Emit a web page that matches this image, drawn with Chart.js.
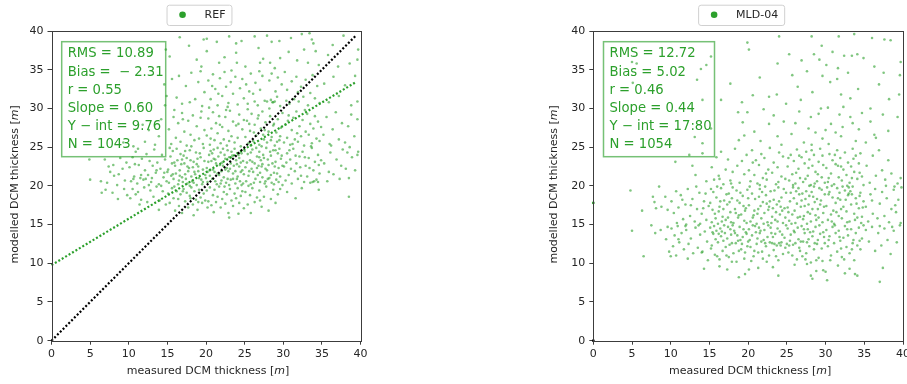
<!DOCTYPE html>
<html><head><meta charset="utf-8">
<script src="https://cdn.jsdelivr.net/npm/chart.js@4.4.0/dist/chart.umd.min.js"></script>
<style>
html,body{margin:0;padding:0;background:#fff;width:907px;height:384px;overflow:hidden;}
#c1{position:absolute;left:0;top:0;}
#c2{position:absolute;left:454px;top:0;}
</style></head><body>
<canvas id="c1" width="454" height="384"></canvas>
<canvas id="c2" width="453" height="384"></canvas>
<script>
// ---------- data ----------
const axisMin = 0, axisMax = 40, axisStep = 5;
const xTitleParts = ["measured DCM thickness [", "m", "]"];
const yTitleParts = ["modelled DCM thickness [", "m", "]"];
const refLabel = "REF";
const mldLabel = "MLD-04";
const refStatsText = ["RMS = 10.89", "Bias =  \u2212 2.31", "r = 0.55", "Slope = 0.60", "Y \u2212 int = 9.76", "N = 1043"];
const mldStatsText = ["RMS = 12.72", "Bias = 5.02", "r = 0.46", "Slope = 0.44", "Y \u2212 int = 17:80", "N = 1054"];
const oneToOneX = [0, 39.4];
const oneToOneY = [0, 39.4];
const refFitX = [0, 39.4];
const refFitY = [9.76, 33.4];
const mldLineX = [0];
const mldOneToOneY = [0];
const mldFitY = [17.8];

const refPoints = [
[14.8,37.6],[15.3,36.7],[16.6,39.2],[17.8,38.1],[18.8,36.3],[19.7,38.9],[19.4,35.4],[20.1,39.0],[20.1,37.4],[21.4,38.6],[21.7,35.9],[23.0,39.3],[23.9,38.4],[23.9,37.2],[24.0,35.9],[24.6,38.7],[22.4,36.6],[25.1,35.4],[26.3,39.3],[27.0,35.9],[27.9,39.4],[28.3,35.9],[28.5,38.6],[28.9,35.2],[29.5,38.7],[29.6,36.5],[26.8,37.8],[27.4,36.4],[31.0,39.1],[30.7,37.3],[32.4,39.6],[32.7,37.6],[33.4,39.7],[33.7,38.9],[33.9,38.4],[33.2,35.9],[31.8,36.2],[34.2,37.4],[34.6,35.6],[35.8,36.9],[36.4,38.2],[37.8,39.4],[38.6,35.8],[39.7,37.6],[39.6,36.3],[37.1,35.4],
[14.6,33.1],[14.7,30.4],[14.9,31.6],
[15.6,33.8],[16.2,31.4],[16.9,30.6],[17.4,32.9],[18.1,34.6],[18.6,31.2],[19.0,33.4],[19.5,30.3],[19.8,32.1],[17.9,30.8],[16.5,34.2],[19.3,34.8],
[20.3,33.6],[20.6,31.2],[20.9,34.4],[21.2,32.5],[21.5,30.4],[21.8,33.9],[22.1,31.6],[22.4,34.7],[22.6,32.8],[22.9,30.7],[23.2,33.4],[23.5,31.9],[23.8,34.1],[24.1,30.5],[24.4,32.6],[24.7,33.8],[20.4,30.1],[21.6,31.9],[22.8,30.2],[24.9,31.3],[23.3,34.9],[20.8,32.9],
[25.2,33.1],[25.4,30.6],[25.8,34.5],[26.1,31.9],[26.4,33.3],[26.7,30.4],[27.0,32.4],[27.3,34.2],[27.6,31.0],[27.9,30.9],[28.2,33.6],[28.4,31.1],[28.7,30.8],[29.0,32.2],[29.3,34.0],[29.6,30.3],[29.8,33.1],[25.6,32.2],[26.9,34.8],[28.5,34.5],[29.2,31.5],[26.3,30.9],
[30.2,34.7],[30.5,32.4],[30.8,30.6],[31.1,33.5],[31.4,31.2],[31.7,34.1],[32.0,30.9],[32.3,32.8],[32.6,31.5],[32.9,33.7],[33.2,30.4],[33.5,32.0],[33.8,34.3],[34.1,31.3],[34.4,32.9],[34.7,30.7],[31.9,32.1],[30.4,31.0],
[35.3,33.2],[35.9,30.8],[36.5,34.1],[37.2,31.6],[38.0,33.0],[38.8,30.4],[39.6,30.9],[39.3,34.2],
[9.3,25.6],[11.8,27.9],[12.6,27.2],[13.4,25.3],[14.2,28.6],[10.6,25.1],[13.9,26.4],[12.1,25.7],
[15.2,27.3],[15.5,25.4],[15.8,28.9],[16.1,26.2],[16.4,28.1],[16.7,25.7],[16.9,29.4],[17.2,27.0],[17.5,25.2],[17.7,28.4],[18.0,26.6],[18.3,29.1],[18.5,25.9],[18.8,27.7],[19.1,26.1],[19.3,28.8],[19.6,25.4],[19.8,27.2],[15.9,29.8],[17.0,28.6],[18.1,25.1],[19.4,29.6],
[20.1,26.5],[20.3,28.7],[20.5,25.3],[20.7,27.4],[20.9,29.5],[21.1,25.9],[21.3,28.1],[21.5,26.8],[21.7,29.0],[21.9,25.5],[22.1,27.6],[22.3,26.0],[22.5,28.9],[22.7,25.2],[22.9,27.1],[23.1,29.7],[23.3,26.4],[23.5,28.3],[23.7,25.6],[23.9,27.8],[24.1,26.2],[24.3,29.2],[24.5,25.1],[24.7,27.3],[24.9,28.5],[20.6,26.1],[21.8,27.9],[23.0,25.8],[24.2,28.0],[22.6,29.8],
[25.1,26.3],[25.3,28.4],[25.5,25.5],[25.7,27.1],[25.9,29.3],[26.1,25.8],[26.3,27.9],[26.5,26.5],[26.7,28.7],[26.9,25.3],[27.1,27.4],[27.3,29.6],[27.5,26.0],[27.7,28.2],[27.9,25.6],[28.1,27.0],[28.3,29.0],[28.5,26.3],[28.7,27.8],[28.9,25.2],[29.1,26.9],[29.3,28.6],[29.5,25.9],[29.7,27.5],[29.9,29.4],[25.4,29.9],[26.2,26.9],[27.2,25.1],[28.2,30.0],[28.6,30.8],[28.9,30.9],[29.2,25.7],[26.8,29.1],[25.8,25.2],[27.6,27.2],[28.4,25.9],[29.6,26.4],[25.6,28.0],[27.4,26.6],[28.8,28.0],
[30.1,25.6],[30.3,27.9],[30.5,26.2],[30.7,29.1],[30.9,25.3],[31.1,27.2],[31.3,28.8],[31.5,26.0],[31.7,29.6],[31.9,25.7],[32.1,27.7],[32.3,26.4],[32.5,28.5],[32.7,25.2],[32.9,27.0],[33.1,29.3],[33.3,26.6],[33.5,28.0],[33.7,25.5],[33.9,27.4],[34.1,29.0],[34.3,26.1],[34.5,28.3],[34.7,25.8],[34.9,27.6],[30.6,28.4],[31.8,26.8],[32.8,29.8],[33.6,25.1],[31.2,25.4],
[35.2,26.6],[35.6,28.9],[36.0,25.4],[36.4,27.3],[36.8,29.5],[37.2,26.0],[37.6,28.1],[38.0,25.6],[38.4,27.7],[38.8,29.2],[39.2,26.4],[39.6,28.6],[39.7,24.4],[36.2,25.2],[38.6,25.0],
[4.9,23.4],[5.0,20.8],[6.4,20.6],[6.5,19.1],[7.4,22.5],[7.6,21.8],[8.0,22.7],[8.1,21.3],[8.5,20.1],[8.7,21.5],[8.9,23.6],[9.2,22.2],[9.5,20.7],[9.7,23.0],[7.2,20.4],[6.9,23.4],
[10.1,22.4],[10.3,20.6],[10.5,23.7],[10.7,21.2],[10.9,24.4],[11.1,20.3],[11.3,22.7],[11.5,21.0],[11.7,23.5],[11.9,20.8],[12.1,22.0],[12.3,24.1],[12.5,21.4],[12.7,23.2],[12.9,20.5],[13.1,22.6],[13.3,24.7],[13.5,21.7],[13.7,23.0],[13.9,20.2],[14.1,22.2],[14.3,24.0],[14.5,21.1],[14.7,23.4],[14.9,20.6],[10.6,20.9],[11.6,21.4],[12.6,20.1],[13.6,22.0],[14.6,21.7],[11.2,24.8],[13.0,21.0],[14.2,20.0],[10.8,22.8],[12.2,20.9],
[15.1,22.1],[15.2,20.4],[15.4,23.8],[15.5,21.3],[15.7,24.5],[15.8,20.9],[16.0,22.6],[16.1,21.6],[16.3,23.3],[16.4,20.2],[16.6,22.0],[16.7,24.1],[16.9,21.1],[17.0,20.5],[17.2,22.9],[17.3,21.5],[17.5,23.6],[17.6,20.3],[17.8,22.3],[17.9,24.6],[18.1,21.2],[18.2,20.6],[18.4,23.1],[18.5,21.8],[18.7,24.3],[18.8,20.1],[19.0,22.5],[19.1,21.0],[19.3,23.7],[19.4,20.8],[19.6,22.1],[19.7,24.9],[19.9,21.4],[15.3,24.9],[15.9,23.0],[16.5,20.7],[17.1,23.9],[17.7,21.9],[18.3,22.4],[18.9,23.5],[19.5,20.2],[16.2,24.8],[17.4,20.9],[18.6,21.5],[19.8,23.2],[15.6,22.9],[16.8,22.8],[18.0,23.3],[19.2,24.2],[17.9,20.0],[15.0,21.8],[16.6,21.3],[18.4,20.4],[19.0,21.9],[17.3,24.5],[19.6,20.5],[16.9,23.4],[15.7,21.5],[18.8,22.8],[17.6,22.5],
[20.1,22.3],[20.2,20.5],[20.4,24.0],[20.5,21.3],[20.7,23.2],[20.8,20.9],[21.0,24.7],[21.1,21.8],[21.3,22.9],[21.4,20.2],[21.6,23.8],[21.7,21.4],[21.9,24.3],[22.0,20.7],[22.2,22.6],[22.3,21.1],[22.5,23.5],[22.6,20.4],[22.8,24.6],[22.9,21.9],[23.1,22.2],[23.2,20.8],[23.4,23.9],[23.5,21.6],[23.7,24.8],[23.8,20.3],[24.0,22.8],[24.1,21.2],[24.3,23.6],[24.4,20.6],[24.6,24.2],[24.7,22.0],[24.9,21.5],[20.3,23.1],[20.9,22.1],[21.5,24.9],[22.1,23.0],[22.7,22.3],[23.3,24.4],[23.9,23.3],[24.5,21.8],[20.6,24.5],[21.2,20.6],[21.8,22.7],[22.4,24.0],[23.0,20.1],[23.6,22.6],[24.2,24.0],[24.8,23.2],[20.0,21.0],[21.0,23.5],[22.0,21.9],[23.0,23.7],[24.0,20.9],[20.5,22.0],[21.5,21.6],[22.5,22.1],[23.5,20.9],[24.5,23.0],[20.8,24.2],[22.8,20.9],[24.8,20.3],[21.9,20.3],[23.8,21.9],[20.2,21.8],[22.2,24.8],[24.3,22.5],[21.2,23.4],[23.2,22.9],[24.6,20.1],
[25.1,22.4],[25.2,20.6],[25.4,24.1],[25.5,21.3],[25.7,23.3],[25.8,20.2],[26.0,24.7],[26.1,21.8],[26.3,22.9],[26.4,20.9],[26.6,23.8],[26.7,21.4],[26.9,24.4],[27.0,20.5],[27.2,22.5],[27.3,21.1],[27.5,23.6],[27.6,20.3],[27.8,24.9],[27.9,22.0],[28.1,22.7],[28.2,21.0],[28.4,23.9],[28.5,20.4],[28.7,24.6],[28.8,21.7],[29.0,23.1],[29.1,20.8],[29.3,24.2],[29.4,22.3],[29.6,21.2],[29.7,23.5],[29.9,20.1],[25.3,23.0],[25.9,22.2],[26.5,24.9],[27.1,23.3],[27.7,22.2],[28.3,24.4],[28.9,22.5],[29.5,24.8],[25.6,21.9],[26.2,20.4],[26.8,22.6],[27.4,24.0],[28.0,20.9],[28.6,22.9],[29.2,21.6],[29.8,23.9],[25.0,24.5],[26.0,23.1],[27.0,21.7],[28.0,23.4],[29.0,24.6],[25.5,20.0],[26.6,22.3],[27.7,20.6],[28.8,20.2],[29.9,22.6],[26.9,23.7],[28.4,21.4],[25.8,24.3],[27.3,22.8],[29.4,20.5],
[30.1,22.5],[30.3,20.7],[30.5,24.2],[30.7,21.4],[30.9,23.4],[31.1,20.3],[31.3,24.8],[31.5,21.9],[31.7,22.9],[31.9,20.9],[32.1,23.8],[32.3,21.3],[32.5,24.4],[32.7,20.5],[32.9,22.6],[33.1,21.2],[33.3,23.6],[33.5,20.4],[33.7,24.9],[33.9,22.0],[34.1,23.1],[34.3,20.8],[34.5,24.0],[34.7,21.6],[34.9,23.3],[30.4,23.0],[31.0,22.2],[31.6,23.9],[32.2,22.4],[32.8,23.7],[33.4,22.3],[34.0,20.6],[34.6,22.7],[30.8,24.6],[33.8,20.5],[34.5,20.5],
[35.3,22.9],[35.7,20.6],[36.1,24.3],[36.5,21.5],[36.9,23.4],[37.3,20.9],[37.7,24.7],[38.1,22.2],[38.5,21.0],[38.9,23.7],[39.3,22.0],[39.6,24.0],[35.9,21.8],[37.5,22.6],[38.3,24.3],
[7.9,19.1],[8.6,18.3],[9.4,19.6],[9.8,18.8],[7.0,19.5],
[10.2,18.4],[10.5,19.6],[10.9,18.9],[11.2,19.2],[11.6,18.2],[12.0,19.8],[12.4,17.9],[12.8,19.4],[13.2,18.6],[13.6,19.9],[14.0,18.1],[14.4,19.3],[14.8,17.6],[11.4,17.6],[13.9,16.9],
[15.1,19.0],[15.3,17.8],[15.6,19.7],[15.8,18.4],[16.0,16.8],[16.2,19.3],[16.5,17.4],[16.7,18.9],[16.9,16.5],[17.1,19.6],[17.3,18.0],[17.5,19.1],[17.7,17.2],[17.9,18.7],[18.1,19.8],[18.3,17.6],[18.5,19.3],[18.7,18.2],[18.9,16.9],[19.1,19.5],[19.3,18.5],[19.5,17.8],[19.7,19.0],[19.9,18.1],[15.9,19.9],[17.0,19.3],[18.0,18.4],[19.0,17.9],[16.4,18.3],[18.4,16.2],
[20.1,19.4],[20.3,18.0],[20.5,19.8],[20.7,17.5],[20.9,18.8],[21.1,19.5],[21.3,17.9],[21.5,18.6],[21.7,19.9],[21.9,17.2],[22.1,18.3],[22.3,19.2],[22.5,17.7],[22.7,18.9],[22.9,16.5],[23.1,19.6],[23.3,18.1],[23.5,17.4],[23.7,19.0],[23.9,18.4],[24.1,19.7],[24.3,17.8],[24.5,18.7],[24.7,19.3],[24.9,17.1],[20.2,17.2],[21.0,16.6],[22.4,19.9],[23.0,15.9],[24.2,16.4],
[25.1,19.2],[25.4,17.6],[25.7,18.8],[26.0,19.7],[26.3,17.9],[26.6,18.5],[26.9,19.4],[27.2,17.3],[27.5,18.6],[27.8,19.9],[28.1,16.8],[28.4,18.3],[28.7,19.5],[29.0,17.8],[29.3,18.9],[29.6,19.6],[25.8,16.5],[27.0,18.1],
[30.5,19.2],[31.6,18.4],[32.4,19.7],[34.6,19.5],[38.5,18.6]
];

const mldPoints = [
[5.0,36.0],[5.6,35.8],[14.6,35.6],[13.9,35.1],[15.2,36.7],[19.9,38.5],[20.1,37.6],[23.8,35.8],[24.0,39.3],[25.3,37.0],[28.2,39.3],[28.5,37.0],[29.5,38.1],[29.2,36.3],[30.9,37.3],[31.7,39.3],[32.4,36.8],[33.4,36.8],[33.7,39.6],[34.1,37.0],[34.9,36.5],[36.0,39.1],[36.3,35.4],[37.6,38.9],[38.4,38.8],[39.7,36.0],[30.1,35.6],[26.9,36.2],[31.6,35.2],
[5.1,33.3],[13.4,33.7],[14.1,31.1],[16.5,31.1],[17.7,33.2],[20.6,31.7],[22.7,31.5],[23.7,31.8],[21.5,34.0],[26.4,32.8],[26.8,31.1],[27.6,34.8],[29.4,30.0],[29.6,34.2],[30.3,30.1],[30.6,33.4],[31.5,33.8],[32.0,31.8],[32.3,30.2],[32.9,34.6],[33.2,31.3],[34.2,32.5],[35.8,30.0],[36.9,33.1],[38.2,31.2],[39.5,31.8],[39.6,34.3],[28.3,32.1],[24.9,30.6],[19.2,30.8],[25.7,34.3],[37.5,34.6],
[14.1,25.5],[15.2,27.4],[13.1,26.3],[18.7,29.5],[18.8,25.9],[19.3,28.2],[19.5,26.5],[19.9,29.5],[20.8,27.0],[22.0,29.9],[22.7,28.0],[23.3,29.1],[21.6,25.8],[24.6,28.3],[23.8,26.4],[24.3,25.3],[26.1,28.1],[25.6,26.7],[27.2,25.6],[28.1,28.9],[28.7,26.9],[29.6,26.1],[27.8,27.4],[29.1,29.3],[30.7,28.0],[32.0,26.4],[32.2,27.6],[33.2,28.9],[33.5,28.1],[34.3,27.3],[30.4,25.4],[31.3,26.9],[33.9,25.8],[34.7,29.4],[31.8,29.2],[35.2,25.6],[36.3,26.6],[36.5,26.2],[37.4,29.2],[39.3,28.9],[38.1,27.1],[35.8,28.3],[26.6,29.6],[28.2,25.3],[30.0,27.2],
[12.4,24.0],[14.1,24.2],[10.6,23.1],[13.2,21.4],[14.6,20.6],[12.8,22.6],
[15.3,22.4],[15.6,20.8],[15.9,23.7],[16.2,21.3],[16.5,24.4],[16.8,20.2],[17.1,22.1],[17.4,23.4],[17.7,20.7],[18.0,21.8],[18.3,24.8],[18.6,22.6],[18.9,20.4],[19.2,23.2],[19.5,21.5],[19.8,24.0],[16.3,20.9],[17.8,20.3],
[20.1,22.0],[20.3,20.6],[20.5,24.6],[20.8,21.4],[21.0,23.3],[21.2,20.3],[21.4,22.7],[21.7,24.1],[21.9,21.0],[22.1,23.6],[22.4,20.8],[22.6,22.1],[22.8,24.9],[23.1,21.7],[23.3,23.0],[23.6,20.2],[23.8,22.4],[24.0,24.3],[24.3,21.2],[24.5,23.8],[24.8,20.9],[22.3,21.6],[20.6,23.0],[23.9,20.5],[21.5,20.1],
[25.1,22.5],[25.3,20.7],[25.5,24.0],[25.7,21.5],[25.9,23.2],[26.1,20.3],[26.3,24.7],[26.5,22.2],[26.7,21.0],[26.9,23.7],[27.1,20.5],[27.3,22.9],[27.5,24.4],[27.7,21.3],[27.9,23.4],[28.1,20.1],[28.3,22.6],[28.5,24.0],[28.7,21.8],[28.9,20.6],[29.1,23.1],[29.3,24.8],[29.5,21.1],[29.7,22.7],[29.9,20.4],[25.8,20.1],[26.6,23.9],[27.4,20.9],[28.2,24.6],[29.0,21.5],[25.2,23.6],[27.8,22.3],[28.6,20.3],[26.2,21.7],[29.6,23.9],
[30.1,22.3],[30.3,20.5],[30.5,24.1],[30.7,21.6],[30.9,23.3],[31.1,20.2],[31.3,22.8],[31.5,24.6],[31.7,21.1],[31.9,23.6],[32.1,20.7],[32.3,22.1],[32.5,24.3],[32.7,21.4],[32.9,23.0],[33.1,20.4],[33.3,22.5],[33.5,24.8],[33.7,21.8],[33.9,23.9],[34.1,20.9],[34.3,22.9],[34.5,24.2],[34.7,21.2],[34.9,20.1],[30.4,21.0],[31.2,24.0],[32.0,22.5],[32.8,20.0],[33.6,23.5],[34.4,21.7],[30.8,20.0],[33.0,19.8],[31.6,22.6],[33.4,21.0],
[35.3,22.6],[35.7,20.4],[36.1,23.9],[36.5,21.3],[36.9,24.6],[37.3,22.0],[37.7,20.8],[38.1,23.3],[38.5,21.6],[38.9,19.9],[39.3,20.3],[39.7,21.0],
[4.8,19.4],[7.7,18.6],[7.9,17.9],[8.5,19.9],[8.8,17.3],[9.3,18.6],[9.6,16.9],[8.1,17.1],[6.3,16.8],
[10.1,18.0],[10.4,16.5],[10.7,19.3],[11.0,17.2],[11.3,18.8],[11.6,15.7],[11.9,17.6],[12.2,19.6],[12.5,16.1],[12.8,18.3],[13.1,15.4],[13.4,17.0],[13.7,19.1],[14.0,16.4],[14.3,18.0],[14.6,15.6],[14.9,17.4],[10.8,15.2],[12.0,15.0],[13.3,19.9],[14.5,19.0],[11.5,18.2],[12.6,17.5],[13.8,15.1],[14.2,17.1],
[15.1,17.8],[15.3,15.3],[15.5,19.2],[15.7,16.4],[15.9,18.5],[16.1,15.1],[16.3,17.3],[16.5,19.7],[16.7,16.0],[16.9,18.1],[17.1,15.6],[17.3,17.6],[17.5,19.0],[17.7,16.6],[17.9,18.4],[18.1,15.2],[18.3,17.0],[18.5,19.4],[18.7,15.9],[18.9,17.8],[19.1,16.3],[19.3,18.7],[19.5,15.5],[19.7,17.1],[19.9,19.5],[15.4,16.9],[16.0,19.9],[16.6,15.4],[17.2,18.9],[17.8,15.3],[18.4,16.5],[19.0,19.1],[19.6,16.8],[15.8,15.8],[16.4,18.0],[17.4,15.9],[18.0,19.8],[18.6,18.1],[19.4,17.4],[15.2,19.6],[16.8,17.0],[17.6,17.9],[18.8,16.2],[19.8,15.2],[16.2,16.7],
[20.1,17.5],[20.3,15.4],[20.5,19.0],[20.7,16.2],[20.9,18.3],[21.1,15.1],[21.3,17.0],[21.5,19.6],[21.7,15.8],[21.9,17.9],[22.1,16.5],[22.3,18.8],[22.5,15.3],[22.7,17.3],[22.9,19.3],[23.1,16.0],[23.3,18.2],[23.5,15.6],[23.7,17.6],[23.9,19.8],[24.1,16.3],[24.3,18.5],[24.5,15.2],[24.7,17.1],[24.9,19.1],[20.2,19.9],[20.8,16.8],[21.4,18.6],[22.0,15.1],[22.6,16.9],[23.2,17.1],[23.8,15.4],[24.4,16.8],[20.6,15.9],[21.8,19.2],[22.8,18.0],[24.0,18.0],[24.8,15.9],[21.2,16.4],[23.4,19.4],[20.0,18.4],[22.4,17.7],[23.6,16.6],[24.6,19.6],[21.6,17.4],[22.2,19.9],[23.0,15.2],[24.2,17.3],
[25.1,17.2],[25.3,15.5],[25.5,19.1],[25.7,16.3],[25.9,18.4],[26.1,15.2],[26.3,17.7],[26.5,19.7],[26.7,16.0],[26.9,18.1],[27.1,15.7],[27.3,17.4],[27.5,19.3],[27.7,16.6],[27.9,18.7],[28.1,15.4],[28.3,17.0],[28.5,19.9],[28.7,16.2],[28.9,18.3],[29.1,15.9],[29.3,17.6],[29.5,19.5],[29.7,16.5],[29.9,18.9],[25.4,18.0],[26.0,16.8],[26.6,18.9],[27.2,16.1],[27.8,17.6],[28.4,18.6],[29.0,17.0],[29.6,15.3],[25.8,19.8],[26.4,15.9],[27.0,19.0],[27.6,15.1],[28.2,19.2],[28.8,15.6],[29.4,18.1],[25.2,16.6],[26.8,17.3],[28.0,16.4],[29.2,19.7],[28.6,17.9],[27.4,18.3],[25.6,15.1],[29.8,17.3],[26.2,19.3],[27.9,20.0],
[30.1,17.4],[30.3,15.6],[30.5,19.2],[30.7,16.3],[30.9,18.5],[31.1,15.1],[31.3,17.8],[31.5,19.7],[31.7,16.1],[31.9,18.2],[32.1,15.8],[32.3,17.3],[32.5,19.4],[32.7,16.7],[32.9,18.8],[33.1,15.4],[33.3,17.6],[33.5,19.9],[33.7,16.4],[33.9,18.4],[34.1,15.9],[34.3,17.1],[34.5,19.1],[34.7,16.0],[34.9,18.0],[30.4,18.9],[31.0,16.8],[31.6,18.4],[32.2,19.9],[32.8,15.3],[33.4,18.9],[34.0,17.7],[34.6,15.2],[30.8,15.4],[32.0,17.0],[33.2,19.3],[34.4,18.7],[31.4,16.6],[33.8,15.6],[30.2,19.8],[33.0,19.0],[32.6,18.2],[31.8,19.1],[34.8,17.2],
[35.2,17.3],[35.5,15.4],[35.8,18.9],[36.1,16.4],[36.4,19.6],[36.7,15.8],[37.0,17.7],[37.3,19.2],[37.6,16.1],[37.9,18.4],[38.2,15.3],[38.5,17.0],[38.8,19.5],[39.1,16.6],[39.4,18.2],[39.7,15.2],[39.8,19.8],[36.0,18.1],[37.8,20.0],[39.0,17.5],
[5.0,14.2],[6.5,10.9],[7.5,14.9],[8.0,13.9],[9.4,13.1],[9.6,14.7],[9.8,11.5],[8.7,14.3],
[10.1,14.5],[10.3,12.2],[10.5,13.6],[10.7,11.0],[10.9,14.8],[11.1,12.7],[11.4,13.9],[11.7,11.8],[12.0,14.3],[12.3,12.5],[12.6,13.2],[12.9,11.3],[13.2,14.6],[13.5,12.0],[13.8,13.7],[14.1,11.5],[14.4,14.1],[14.7,12.8],[10.0,10.9],[11.0,13.1],[12.2,10.6],[13.6,14.9],[14.0,11.4],[14.8,10.4],[11.9,14.8],
[15.1,14.6],[15.3,12.3],[15.5,13.8],[15.7,11.1],[15.9,14.2],[16.1,12.7],[16.3,10.5],[16.5,13.5],[16.7,11.6],[16.9,14.9],[17.1,12.1],[17.3,13.2],[17.5,10.8],[17.7,14.4],[17.9,12.6],[18.1,11.3],[18.3,13.9],[18.5,10.2],[18.7,12.9],[18.9,14.7],[19.1,11.8],[19.3,13.4],[19.5,10.6],[19.7,14.0],[19.9,12.2],[15.2,11.9],[15.8,13.1],[16.4,14.5],[17.0,13.9],[17.6,12.4],[18.2,14.2],[18.8,11.6],[19.4,14.4],[16.0,10.9],[16.6,14.1],[17.2,11.0],[17.8,13.7],[18.4,12.6],[19.0,13.0],[19.6,11.4],[15.6,14.8],[16.8,12.9],[18.0,14.9],[19.2,12.5],[15.4,14.0],[17.4,14.7],[18.6,13.6],[19.8,13.8],[16.2,13.8],[17.9,10.2],
[20.1,14.4],[20.3,12.1],[20.5,13.6],[20.7,10.9],[20.9,14.8],[21.1,12.5],[21.3,11.4],[21.5,13.9],[21.7,12.8],[21.9,10.6],[22.1,14.3],[22.3,12.2],[22.5,13.4],[22.7,11.0],[22.9,14.6],[23.1,12.6],[23.3,11.7],[23.5,13.8],[23.7,12.3],[23.9,10.4],[24.1,14.1],[24.3,12.7],[24.5,11.2],[24.7,13.3],[24.9,14.9],[20.2,13.0],[20.8,11.6],[21.4,14.6],[22.0,13.0],[22.6,14.9],[23.2,13.4],[23.8,14.5],[24.4,13.7],[20.6,14.9],[21.2,13.2],[21.8,11.5],[22.4,10.2],[23.0,13.9],[23.6,10.9],[24.2,12.3],[24.8,12.0],[20.4,10.3],[21.6,14.2],[22.8,12.7],[24.0,12.6],[25.0,12.5],[22.2,12.6],[23.4,12.5],[20.0,12.8],[21.0,14.0],
[25.1,14.5],[25.3,12.3],[25.5,13.7],[25.7,11.0],[25.9,14.2],[26.1,12.6],[26.3,10.5],[26.5,13.1],[26.7,11.6],[26.9,14.8],[27.1,12.8],[27.3,13.9],[27.5,11.3],[27.7,14.4],[27.9,12.2],[28.1,10.1],[28.3,13.5],[28.5,11.8],[28.7,14.7],[28.9,12.5],[29.1,10.7],[29.3,13.8],[29.5,11.9],[29.7,14.0],[29.9,12.6],[25.4,12.9],[26.0,14.0],[26.6,12.0],[27.2,14.4],[27.8,13.1],[28.4,14.1],[29.0,13.0],[29.6,10.3],[26.4,14.6],[27.0,10.9],[28.0,14.0],[29.2,14.9],[25.8,12.4],[26.8,12.8],[27.6,12.7],[28.6,12.6],[29.8,13.4],[25.2,11.4],[27.4,10.5],[28.8,10.4],
[30.1,14.3],[30.3,12.2],[30.5,13.5],[30.7,11.0],[30.9,14.7],[31.1,12.6],[31.3,13.9],[31.5,11.5],[31.7,14.2],[31.9,12.9],[32.1,10.8],[32.3,13.3],[32.5,14.8],[32.7,12.1],[32.9,13.6],[33.1,11.3],[33.3,14.4],[33.5,12.6],[33.7,10.4],[33.9,13.9],[34.1,12.3],[34.3,14.6],[34.5,11.8],[34.7,13.2],[34.9,14.9],[30.4,13.0],[31.2,14.9],[32.0,11.9],[32.8,14.4],[33.6,13.0],[34.4,12.9],[30.6,10.4],[32.4,10.5],[31.8,13.4],[33.4,11.8],
[35.2,14.3],[35.6,12.8],[36.0,14.7],[36.4,11.6],[36.8,13.9],[37.2,12.3],[37.6,14.5],[38.0,13.0],[38.4,11.2],[38.8,14.2],[39.2,12.7],[39.6,14.9],[37.0,14.8],[38.6,14.7],
[14.3,9.3],[16.3,9.6],[17.3,9.2],[18.8,8.2],[19.6,8.6],[20.1,9.2],[21.3,9.4],[23.2,9.5],[23.9,8.4],[26.0,9.8],[27.6,9.9],[28.1,8.4],[28.3,8.0],[28.8,9.0],[29.7,9.1],[30.0,8.9],[30.2,7.8],[31.6,9.7],[32.5,8.7],[33.1,9.3],[33.8,8.6],[37.0,7.6],[34.1,8.4],[37.4,9.4]
];

// ---------- styles ----------
const GREEN = '#2ca02c';
const PT_FILL = 'rgba(44,160,44,0.6)';
const TXT = '#262626';
const FONT = '"DejaVu Sans", Verdana, sans-serif';

function toXY(arr){ return arr.map(p => ({x:p[0], y:p[1]})); }
function zipXY(xs, ys){ return xs.map((x,i)=>({x:x, y:ys[i]})); }

function drawParts(ctx, parts, x, y){
  // parts: [normal, italic, normal], centred at x
  const fonts = ['11px ' + FONT, 'italic 11px ' + FONT, '11px ' + FONT];
  let total = 0; const ws = [];
  parts.forEach((p,i)=>{ ctx.font = fonts[i]; const w = ctx.measureText(p).width; ws.push(w); total += w; });
  let cx = x - total/2;
  parts.forEach((p,i)=>{ ctx.font = fonts[i]; ctx.fillText(p, cx, y); cx += ws[i]; });
}

function decorPlugin(label, stats, boxW, yTitleX){
  return {
    id:'decor',
    afterDraw(chart){
      const ctx = chart.ctx, a = chart.chartArea;
      ctx.save();
      // frame
      ctx.strokeStyle = '#3c3c3c'; ctx.lineWidth = 1;
      ctx.strokeRect(Math.round(a.left)+0.5, Math.round(a.top)+0.5, Math.round(a.right-a.left), Math.round(a.bottom-a.top));
      // axis titles
      ctx.fillStyle = TXT; ctx.textBaseline = 'middle'; ctx.textAlign = 'left';
      drawParts(ctx, xTitleParts, (a.left + a.right)/2 + 2, 371);
      ctx.save();
      ctx.translate(yTitleX, (a.top + a.bottom)/2 - 1.5);
      ctx.rotate(-Math.PI/2);
      drawParts(ctx, yTitleParts, 0, 0);
      ctx.restore();
      // stats box
      const bx = a.left + 10.2, by = a.top + 10.7;
      ctx.strokeStyle = 'rgba(44,160,44,0.65)'; ctx.lineWidth = 1.5;
      ctx.strokeRect(bx, by, boxW, 115);
      ctx.fillStyle = GREEN;
      ctx.font = '13.2px ' + FONT;
      ctx.textBaseline = 'alphabetic'; ctx.textAlign = 'left';
      stats.forEach((t,i)=>{ ctx.fillText(t, a.left + 16.2, a.top + 26.3 + i*18.2); });
      // legend
      ctx.font = '11px ' + FONT;
      const tw = ctx.measureText(label).width;
      const w = 16 + 22 + tw + 6;
      const cx = (a.left + a.right)/2 - 7;
      const lx = cx - w/2, ly = 4.7, lh = 20.3;
      ctx.beginPath();
      if (ctx.roundRect) ctx.roundRect(lx+0.5, ly+0.5, w, lh, 2.5); else ctx.rect(lx+0.5, ly+0.5, w, lh);
      ctx.fillStyle = 'rgba(255,255,255,0.8)'; ctx.fill();
      ctx.strokeStyle = '#d0d0d0'; ctx.lineWidth = 1; ctx.stroke();
      ctx.beginPath(); ctx.arc(lx + 16, 14.8, 3.3, 0, Math.PI*2); ctx.fillStyle = GREEN; ctx.fill();
      ctx.fillStyle = TXT; ctx.textBaseline = 'middle';
      ctx.fillText(label, lx + 38, 15);
      ctx.restore();
    }
  };
}

function makeChart(canvasId, opts){
  const tickFont = {family: FONT, size: 11};
  return new Chart(document.getElementById(canvasId), {
    type: 'scatter',
    data: { datasets: opts.datasets },
    options: {
      responsive: false, animation: false, devicePixelRatio: 1,
      layout: { padding: { left: opts.padLeft, right: opts.padRight, top: 31, bottom: 0 } },
      plugins: { legend: {display:false}, tooltip: {enabled:false} },
      scales: {
        x: {
          type:'linear', min: axisMin, max: axisMax,
          ticks: { stepSize: axisStep, font: tickFont, color: TXT, padding: 3, maxRotation: 0, autoSkip: false },
          grid: { display: true, drawOnChartArea: false, drawTicks: true, tickLength: 4, tickColor: '#3c3c3c', tickWidth: 1 },
          border: { display: false },
          title: { display: false },
          afterFit(s){ s.height = 43.3; s.paddingLeft = 0; s.paddingRight = 0; }
        },
        y: {
          type:'linear', min: axisMin, max: axisMax,
          ticks: { stepSize: axisStep, font: tickFont, color: TXT, padding: 4, autoSkip: false },
          grid: { display: true, drawOnChartArea: false, drawTicks: true, tickLength: 4, tickColor: '#3c3c3c', tickWidth: 1 },
          border: { display: false },
          title: { display: false },
          afterFit(s){ s.width = 51.5; s.paddingTop = 0; s.paddingBottom = 0; }
        }
      }
    },
    plugins: [decorPlugin(opts.label, opts.stats, opts.boxW, opts.yTitleX)]
  });
}

const lineStyle = { showLine: true, pointRadius: 0, borderWidth: 2.2, borderDash: [2, 2], borderCapStyle: 'butt', fill: false, clip: false };

makeChart('c1', {
  padLeft: 0, padRight: 93.5, label: refLabel, stats: refStatsText, boxW: 104, yTitleX: 15,
  datasets: [
    Object.assign({ label: '1:1', data: zipXY(oneToOneX, oneToOneY), borderColor: '#000000' }, lineStyle),
    Object.assign({ label: 'fit', data: zipXY(refFitX, refFitY), borderColor: GREEN }, lineStyle),
    { label: refLabel, data: toXY(refPoints), pointRadius: 1.3, pointBorderWidth: 0, backgroundColor: PT_FILL, borderColor: PT_FILL, clip: false }
  ]
});

makeChart('c2', {
  padLeft: 87.8, padRight: 4, label: mldLabel, stats: mldStatsText, boxW: 111, yTitleX: 100,
  datasets: [
    { label: '1:1', data: zipXY(mldLineX, mldOneToOneY), pointRadius: 1.4, pointBorderWidth: 0, backgroundColor: '#000', clip: false },
    { label: 'fit', data: zipXY(mldLineX, mldFitY), pointRadius: 1.4, pointBorderWidth: 0, backgroundColor: GREEN, clip: false },
    { label: mldLabel, data: toXY(mldPoints), pointRadius: 1.3, pointBorderWidth: 0, backgroundColor: PT_FILL, borderColor: PT_FILL, clip: false }
  ]
});
</script>
</body></html>
